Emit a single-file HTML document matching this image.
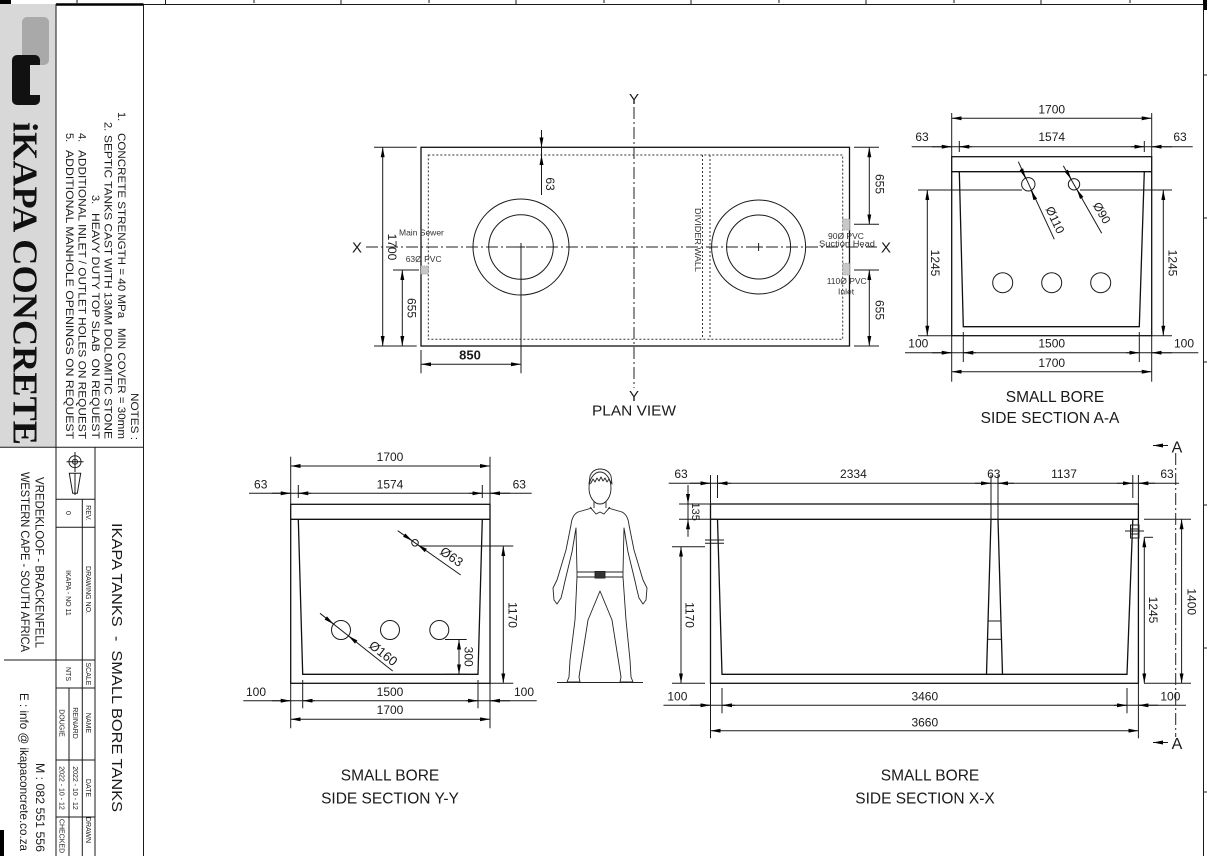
<!DOCTYPE html>
<html><head><meta charset="utf-8"><style>
html,body{margin:0;padding:0;background:#fff;}
svg{display:block;}
text{font-family:"Liberation Sans",Arial,sans-serif;fill:#1a1a1a;}
.l{stroke:#1a1a1a;stroke-width:1;fill:none;}
.t{stroke:#111;stroke-width:1.3;fill:none;}
.dd{stroke:#1a1a1a;stroke-width:1;fill:none;marker-start:url(#ar);marker-end:url(#ar);}
.de{stroke:#1a1a1a;stroke-width:1;fill:none;marker-end:url(#ar);}
.dot{stroke:#333;stroke-width:1;fill:none;stroke-dasharray:2,2;}
.ax{stroke:#222;stroke-width:1;fill:none;stroke-dasharray:12,3,2,3;}
.n{font-size:12px;}
.s{font-size:8.5px;fill:#333;}
.tt{font-size:15.5px;}
.tb{font-size:7px;}
</style></head><body>
<svg width="1207" height="856" viewBox="0 0 1207 856" xmlns="http://www.w3.org/2000/svg">
<defs>
<marker id="ar" viewBox="0 0 10 4" refX="10" refY="2" markerWidth="10" markerHeight="4" markerUnits="userSpaceOnUse" orient="auto-start-reverse"><path d="M0,0L10,2L0,4z" fill="#000"/></marker>
</defs>

<!-- page frame -->
<rect x="0" y="0" width="11" height="4" fill="#000"/>
<rect x="0" y="830" width="4" height="26" fill="#000"/>
<rect x="1203" y="0" width="4" height="10" fill="#000"/>
<line class="l" x1="56" y1="4.5" x2="1203" y2="4.5"/>
<line x1="56" y1="4.5" x2="143.5" y2="4.5" stroke="#000" stroke-width="2.5"/>
<line class="l" x1="1203.5" y1="4" x2="1203.5" y2="856"/>
<g class="l">
<line x1="165.5" y1="0" x2="165.5" y2="5"/><line x1="341" y1="0" x2="341" y2="5"/><line x1="516" y1="0" x2="516" y2="5"/><line x1="691" y1="0" x2="691" y2="5"/><line x1="866" y1="0" x2="866" y2="5"/><line x1="1041" y1="0" x2="1041" y2="5"/>
<line x1="77" y1="0" x2="77" y2="3"/><line x1="254" y1="0" x2="254" y2="3"/><line x1="429" y1="0" x2="429" y2="3"/><line x1="604" y1="0" x2="604" y2="3"/><line x1="779" y1="0" x2="779" y2="3"/><line x1="954" y1="0" x2="954" y2="3"/><line x1="1130" y1="0" x2="1130" y2="3"/>
<line x1="1203" y1="75" x2="1207" y2="75"/><line x1="1203" y1="218" x2="1207" y2="218"/><line x1="1203" y1="362" x2="1207" y2="362"/><line x1="1203" y1="505" x2="1207" y2="505"/><line x1="1203" y1="648" x2="1207" y2="648"/><line x1="1203" y1="792" x2="1207" y2="792"/>
</g>

<!-- title block -->
<rect x="0" y="4" width="56" height="443" fill="#d8d8d8"/>
<rect x="22" y="17" width="27" height="48" rx="5" fill="#a9a9a9"/>
<rect x="12" y="55" width="28" height="50" rx="5" fill="#111"/>
<rect x="30" y="65" width="10" height="30" fill="#d8d8d8"/>
<text transform="translate(13.5,122) rotate(90)" font-family="Liberation Serif,serif" font-weight="bold" font-size="35" textLength="323" lengthAdjust="spacingAndGlyphs" style="font-family:'Liberation Serif',serif;fill:#111">iKAPA CONCRETE</text>

<g class="l">
<line x1="56" y1="4" x2="56" y2="856"/>
<line x1="143.5" y1="4" x2="143.5" y2="856"/>
<line x1="0" y1="447.3" x2="143.5" y2="447.3"/>
<line x1="95" y1="447.3" x2="95" y2="856"/>
<line x1="82.3" y1="499.3" x2="82.3" y2="856"/>
<line x1="69" y1="688" x2="69" y2="856"/>
<line x1="56" y1="499.3" x2="95" y2="499.3"/>
<line x1="56" y1="527.3" x2="95" y2="527.3"/>
<line x1="4" y1="660" x2="95" y2="660"/>
<line x1="56" y1="688" x2="95" y2="688"/>
<line x1="56" y1="760" x2="95" y2="760"/>
<line x1="56" y1="817" x2="95" y2="817"/>
<circle cx="75" cy="461.7" r="6"/><circle cx="75" cy="461.7" r="2.5"/>
<line x1="66.5" y1="461.7" x2="83.5" y2="461.7"/><line x1="75" y1="452" x2="75" y2="472"/>
<path d="M69.3,473.3 L80.7,473.3 L77.3,493.3 L72.7,493.3 Z"/>
<line x1="75" y1="473.3" x2="75" y2="495"/>
</g>

<!-- notes -->
<text transform="translate(131,393) rotate(90)" style="font-size:11px" textLength="47" lengthAdjust="spacingAndGlyphs">NOTES :</text>
<text transform="translate(118,112) rotate(90)" style="font-size:11px">1.</text>
<text transform="translate(118,133) rotate(90)" style="font-size:11px" textLength="306" lengthAdjust="spacingAndGlyphs">CONCRETE STRENGTH = 40 MPa&#160;&#160; MIN COVER = 30mm</text>
<text transform="translate(104.5,122) rotate(90)" style="font-size:11px">2.</text>
<text transform="translate(104.5,135) rotate(90)" style="font-size:11px" textLength="304" lengthAdjust="spacingAndGlyphs">SEPTIC TANKS CAST WITH 13MM DOLOMITIC STONE</text>
<text transform="translate(92,195) rotate(90)" style="font-size:11px">3.</text>
<text transform="translate(92,213) rotate(90)" style="font-size:11px" textLength="226" lengthAdjust="spacingAndGlyphs">HEAVY DUTY TOP SLAB&#160; ON REQUEST</text>
<text transform="translate(78.5,133) rotate(90)" style="font-size:11px">4.</text>
<text transform="translate(78.5,150) rotate(90)" style="font-size:11px" textLength="289" lengthAdjust="spacingAndGlyphs">ADDITIONAL INLET / OUTLET HOLES ON REQUEST</text>
<text transform="translate(66,133) rotate(90)" style="font-size:11px">5.</text>
<text transform="translate(66,150) rotate(90)" style="font-size:11px" textLength="289" lengthAdjust="spacingAndGlyphs">ADDITIONAL MANHOLE OPENINGS ON REQUEST</text>

<!-- title block text -->
<text transform="translate(112,523) rotate(90)" style="font-size:15px" textLength="289" lengthAdjust="spacingAndGlyphs">IKAPA TANKS&#160; -&#160; SMALL BORE TANKS</text>
<text transform="translate(35.5,477) rotate(90)" style="font-size:12px" textLength="171" lengthAdjust="spacingAndGlyphs">VREDEKLOOF - BRACKENFELL</text>
<text transform="translate(21,472) rotate(90)" style="font-size:12px" textLength="180" lengthAdjust="spacingAndGlyphs">WESTERN CAPE - SOUTH AFRICA</text>
<text transform="translate(36,763) rotate(90)" style="font-size:12px" textLength="89" lengthAdjust="spacingAndGlyphs">M : 082 551 556</text>
<text transform="translate(20,693) rotate(90)" style="font-size:12px" textLength="158" lengthAdjust="spacingAndGlyphs">E : info @ ikapaconcrete.co.za</text>
<g class="tb">
<text transform="translate(86,513) rotate(90)" text-anchor="middle">REV.</text>
<text transform="translate(66,513) rotate(90)" text-anchor="middle">0</text>
<text transform="translate(86,590) rotate(90)" text-anchor="middle">DRAWING NO.</text>
<text transform="translate(66,593) rotate(90)" text-anchor="middle">IKAPA - NO 11</text>
<text transform="translate(86,674) rotate(90)" text-anchor="middle">SCALE</text>
<text transform="translate(66,674) rotate(90)" text-anchor="middle">NTS</text>
<text transform="translate(86,723) rotate(90)" text-anchor="middle">NAME</text>
<text transform="translate(73,723) rotate(90)" text-anchor="middle">REINARD</text>
<text transform="translate(59.5,723) rotate(90)" text-anchor="middle">DOUGIE</text>
<text transform="translate(86,788) rotate(90)" text-anchor="middle">DATE</text>
<text transform="translate(73,788) rotate(90)" text-anchor="middle">2022 - 10 - 12</text>
<text transform="translate(59.5,788) rotate(90)" text-anchor="middle">2022 - 10 - 12</text>
<text transform="translate(86,830) rotate(90)" text-anchor="middle">DRAWN</text>
<text transform="translate(59.5,836) rotate(90)" text-anchor="middle">CHECKED</text>
</g>

<!-- ================= PLAN VIEW ================= -->
<rect class="t" x="421" y="147.3" width="428.5" height="198.7"/>
<rect class="dot" x="428.3" y="155" width="414.4" height="184.3"/>
<line class="dot" x1="702.5" y1="155" x2="702.5" y2="339.3"/>
<line class="dot" x1="710" y1="155" x2="710" y2="339.3"/>
<line class="ax" x1="634" y1="107" x2="634" y2="388"/>
<line class="ax" x1="366" y1="247" x2="877" y2="247"/>
<text x="634" y="104" text-anchor="middle" style="font-size:15px">Y</text>
<text x="634" y="401" text-anchor="middle" style="font-size:15px">Y</text>
<text x="357" y="252.5" text-anchor="middle" style="font-size:15px">X</text>
<text x="886" y="252.5" text-anchor="middle" style="font-size:15px">X</text>
<text x="634" y="415.5" text-anchor="middle" style="font-size:15px" textLength="84" lengthAdjust="spacingAndGlyphs">PLAN VIEW</text>
<g class="l">
<circle cx="521" cy="247" r="48"/><circle cx="521" cy="247" r="32.3"/>
<circle cx="758.6" cy="247" r="47"/><circle cx="758.6" cy="247" r="32"/>
<line x1="517" y1="247" x2="525" y2="247"/>
<line x1="754.6" y1="247" x2="762.6" y2="247"/><line x1="758.6" y1="243" x2="758.6" y2="251"/>
<line x1="521" y1="243" x2="521" y2="373.3"/>
<line x1="421" y1="350" x2="421" y2="373.3"/>
<line x1="374" y1="147.3" x2="416.7" y2="147.3"/>
<line x1="374" y1="346" x2="416.7" y2="346"/>
<line x1="393" y1="270" x2="419" y2="270"/>
<line x1="541.5" y1="130" x2="541.5" y2="195"/>
<line x1="854" y1="147.3" x2="879" y2="147.3"/>
<line x1="854" y1="224.3" x2="879" y2="224.3"/>
<line x1="854" y1="270" x2="879" y2="270"/>
<line x1="854" y1="346" x2="879" y2="346"/>
</g>
<line class="dd" x1="382.7" y1="147.3" x2="382.7" y2="346"/>
<line class="dd" x1="402.3" y1="270" x2="402.3" y2="346"/>
<line class="dd" x1="421" y1="364.3" x2="521" y2="364.3"/>
<line class="de" x1="541.5" y1="132" x2="541.5" y2="147.3"/>
<line class="de" x1="541.5" y1="170" x2="541.5" y2="155"/>
<line class="dd" x1="869.3" y1="147.3" x2="869.3" y2="224.3"/>
<line class="dd" x1="869.3" y1="270" x2="869.3" y2="346"/>
<g class="n">
<text transform="translate(392,247) rotate(90)" text-anchor="middle" dominant-baseline="central">1700</text>
<text transform="translate(411.7,308) rotate(90)" text-anchor="middle" dominant-baseline="central">655</text>
<text transform="translate(550,184) rotate(90)" text-anchor="middle" dominant-baseline="central">63</text>
<text transform="translate(879.3,184) rotate(90)" text-anchor="middle" dominant-baseline="central">655</text>
<text transform="translate(879.3,310) rotate(90)" text-anchor="middle" dominant-baseline="central">655</text>
<text x="470" y="359.5" text-anchor="middle" font-weight="bold" style="font-size:13px">850</text>
</g>
<g fill="#c8c8c8" stroke="#999" stroke-width="0.8" stroke-dasharray="1.5,1">
<rect x="421" y="266" width="7.3" height="8"/>
<rect x="842.7" y="219" width="7" height="11"/>
<rect x="842.7" y="263.3" width="7" height="11.7"/>
</g>
<text transform="translate(695,208) rotate(90)" style="font-size:8.5px;fill:#333" textLength="64" lengthAdjust="spacingAndGlyphs">DIVIDER WALL</text>
<text class="s" x="399" y="235.5">Main Sewer</text>
<text class="s" x="405.7" y="262">63Ø PVC</text>
<text class="s" x="828" y="239">90Ø PVC</text>
<text class="s" x="819" y="246.5" textLength="56" lengthAdjust="spacingAndGlyphs">Suction Head</text>
<text class="s" x="826.7" y="284">110Ø PVC</text>
<text class="s" x="838" y="294.5">Inlet</text>

<!-- ================= SECTION A-A ================= -->
<g class="t">
<rect x="951.7" y="156.7" width="200" height="179"/>
<line x1="951.7" y1="171.7" x2="1151.7" y2="171.7"/>
<polyline points="959.3,171.7 963.3,326.7 1139.3,326.7 1144.3,171.7"/>
</g>
<g class="l">
<circle cx="1028.3" cy="184.3" r="6.7"/><circle cx="1074" cy="184.3" r="5.7"/>
<circle cx="1002.7" cy="282.7" r="10"/><circle cx="1051.7" cy="282.7" r="10"/><circle cx="1100.7" cy="282.7" r="10"/>
<line x1="1018.3" y1="161.7" x2="1054.3" y2="239.3"/>
<line x1="1063.3" y1="165.7" x2="1101.7" y2="233.3"/>
<line x1="951.7" y1="113" x2="951.7" y2="156.7"/><line x1="1151.7" y1="113" x2="1151.7" y2="156.7"/>
<line x1="911.7" y1="146.7" x2="1192.7" y2="146.7"/>
<line x1="959.3" y1="141" x2="959.3" y2="152"/><line x1="1144.3" y1="141" x2="1144.3" y2="152"/>
<line x1="918" y1="190" x2="1022" y2="190"/><line x1="1080" y1="190" x2="1172" y2="190"/>
<line x1="918" y1="335.7" x2="951.7" y2="335.7"/><line x1="1151.7" y1="335.7" x2="1172" y2="335.7"/>
<line x1="905" y1="352.7" x2="1198.3" y2="352.7"/>
<line x1="963.3" y1="332" x2="963.3" y2="362"/><line x1="1139.3" y1="332" x2="1139.3" y2="362"/>
<line x1="951.7" y1="335.7" x2="951.7" y2="381.7"/><line x1="1151.7" y1="335.7" x2="1151.7" y2="381.7"/>
</g>
<line class="dd" x1="951.7" y1="118.3" x2="1151.7" y2="118.3"/>
<line class="de" x1="932" y1="146.7" x2="951.7" y2="146.7"/>
<line class="de" x1="972" y1="146.7" x2="959.3" y2="146.7"/>
<line class="de" x1="1131" y1="146.7" x2="1144.3" y2="146.7"/>
<line class="de" x1="1172" y1="146.7" x2="1151.7" y2="146.7"/>
<line class="dd" x1="927.3" y1="190" x2="927.3" y2="335.7"/>
<line class="dd" x1="1163.3" y1="190" x2="1163.3" y2="335.7"/>
<line class="de" x1="932" y1="352.7" x2="951.7" y2="352.7"/>
<line class="de" x1="976" y1="352.7" x2="963.3" y2="352.7"/>
<line class="de" x1="1126" y1="352.7" x2="1139.3" y2="352.7"/>
<line class="de" x1="1172" y1="352.7" x2="1151.7" y2="352.7"/>
<line class="dd" x1="951.7" y1="371.7" x2="1151.7" y2="371.7"/>
<line class="de" x1="1021.3" y1="169.1" x2="1025.5" y2="178.2"/>
<line class="de" x1="1035.3" y1="199.5" x2="1031.1" y2="190.4"/>
<line class="de" x1="1066.2" y1="170.6" x2="1071.2" y2="179.3"/>
<line class="de" x1="1081.8" y1="198" x2="1076.8" y2="189.3"/>
<g class="n">
<text x="1051.7" y="113.5" text-anchor="middle">1700</text>
<text x="922" y="141" text-anchor="middle">63</text>
<text x="1051.7" y="141" text-anchor="middle">1574</text>
<text x="1180" y="141" text-anchor="middle">63</text>
<text transform="translate(935,263) rotate(90)" text-anchor="middle" dominant-baseline="central">1245</text>
<text transform="translate(1172.7,263) rotate(90)" text-anchor="middle" dominant-baseline="central">1245</text>
<text transform="translate(1055,220) rotate(65)" text-anchor="middle" dominant-baseline="central">Ø110</text>
<text transform="translate(1101.7,213) rotate(60)" text-anchor="middle" dominant-baseline="central">Ø90</text>
<text x="918.3" y="347.6" text-anchor="middle">100</text>
<text x="1051.7" y="347.6" text-anchor="middle">1500</text>
<text x="1184" y="347.6" text-anchor="middle">100</text>
<text x="1051.7" y="367" text-anchor="middle">1700</text>
</g>
<text class="tt" x="1055" y="402" text-anchor="middle">SMALL BORE</text>
<text class="tt" x="1050" y="423" text-anchor="middle">SIDE SECTION A-A</text>

<!-- ================= SECTION Y-Y ================= -->
<g class="t">
<rect x="290.7" y="504.3" width="199.3" height="179"/>
<line x1="290.7" y1="519.3" x2="490" y2="519.3"/>
<polyline points="298.3,519.3 302.7,674.3 478,674.3 482.3,519.3"/>
</g>
<g class="l">
<circle cx="415" cy="542.8" r="3.3"/>
<circle cx="341" cy="630" r="9.5"/><circle cx="390" cy="630" r="9.5"/><circle cx="439.3" cy="630" r="9.5"/>
<line x1="397.7" y1="530.7" x2="460.7" y2="575"/>
<line x1="320" y1="613.3" x2="392.7" y2="671"/>
<line x1="290.7" y1="456.7" x2="290.7" y2="504.3"/><line x1="490" y1="456.7" x2="490" y2="504.3"/>
<line x1="249" y1="493.3" x2="531.7" y2="493.3"/>
<line x1="298.3" y1="485" x2="298.3" y2="498"/><line x1="482.3" y1="485" x2="482.3" y2="498"/>
<line x1="420" y1="546" x2="513.3" y2="546"/>
<line x1="490" y1="683.3" x2="513.3" y2="683.3"/>
<line x1="445" y1="639.5" x2="466.7" y2="639.5"/>
<line x1="445" y1="674.3" x2="466.7" y2="674.3"/>
<line x1="243.3" y1="700.7" x2="536.7" y2="700.7"/>
<line x1="302.7" y1="680" x2="302.7" y2="708.3"/><line x1="478" y1="680" x2="478" y2="708.3"/>
<line x1="290.7" y1="683.3" x2="290.7" y2="728.3"/><line x1="490" y1="683.3" x2="490" y2="728.3"/>
</g>
<line class="dd" x1="290.7" y1="466" x2="490" y2="466"/>
<line class="de" x1="272" y1="493.3" x2="290.7" y2="493.3"/>
<line class="de" x1="311" y1="493.3" x2="298.3" y2="493.3"/>
<line class="de" x1="469" y1="493.3" x2="482.3" y2="493.3"/>
<line class="de" x1="510" y1="493.3" x2="490" y2="493.3"/>
<line class="dd" x1="503.3" y1="546" x2="503.3" y2="683.3"/>
<line class="dd" x1="459" y1="639.5" x2="459" y2="674.3"/>
<line class="de" x1="272" y1="700.7" x2="290.7" y2="700.7"/>
<line class="de" x1="315" y1="700.7" x2="302.7" y2="700.7"/>
<line class="de" x1="466" y1="700.7" x2="478" y2="700.7"/>
<line class="de" x1="510" y1="700.7" x2="490" y2="700.7"/>
<line class="dd" x1="290.7" y1="719.3" x2="490" y2="719.3"/>
<line class="de" x1="404.1" y1="535.1" x2="412.3" y2="540.9"/>
<line class="de" x1="425.9" y1="550.5" x2="417.7" y2="544.7"/>
<line class="de" x1="325.7" y1="617.9" x2="333.6" y2="624.1"/>
<line class="de" x1="356.3" y1="642.1" x2="348.4" y2="635.9"/>
<g class="n">
<text x="390" y="461" text-anchor="middle">1700</text>
<text x="260.7" y="488.6" text-anchor="middle">63</text>
<text x="390" y="488.6" text-anchor="middle">1574</text>
<text x="519.3" y="488.6" text-anchor="middle">63</text>
<text transform="translate(512.7,615) rotate(90)" text-anchor="middle" dominant-baseline="central">1170</text>
<text transform="translate(468.3,656.7) rotate(90)" text-anchor="middle" dominant-baseline="central">300</text>
<text transform="translate(451.7,556.7) rotate(35)" text-anchor="middle" dominant-baseline="central" style="font-size:13px">Ø63</text>
<text transform="translate(383.3,653.3) rotate(38)" text-anchor="middle" dominant-baseline="central" style="font-size:13px">Ø160</text>
<text x="256" y="696" text-anchor="middle">100</text>
<text x="390" y="696" text-anchor="middle">1500</text>
<text x="524" y="696" text-anchor="middle">100</text>
<text x="390" y="714" text-anchor="middle">1700</text>
</g>
<text class="tt" x="390" y="780.5" text-anchor="middle">SMALL BORE</text>
<text class="tt" x="390" y="803.5" text-anchor="middle">SIDE SECTION Y-Y</text>

<!-- ================= HUMAN ================= -->
<g stroke="#222" stroke-width="0.9" fill="none" stroke-linejoin="round">
<ellipse cx="600" cy="488" rx="11" ry="16" fill="#fff"/>
<path d="M589,484 L590,476 Q593,469 600,469 Q608,469 611,476 L612,484 L609,479 L607,482 L605,478 L603,481 L601,477 L599,481 L597,478 L595,482 L593,479 L591,483 Z"/>
<path d="M594,502 L594,508 M606,502 L606,508"/>
<path d="M590,507 L596,514 L600,512 L604,514 L610,507"/>
<path d="M592,508 L578,512 Q572,515 571,525 L566,550 L557,580 L553,588 L554,600 L557,604 L561,598 L563,590 L565,581 L572,552 L576,528 L577,572"/>
<path d="M608,508 L622,512 Q628,515 629,525 L634,550 L643,580 L647,588 L646,600 L643,604 L639,598 L637,590 L635,581 L628,552 L624,528 L623,572"/>
<rect x="577" y="572" width="46" height="5"/>
<rect x="595" y="571.5" width="10" height="6.5" fill="#333"/>
<path d="M577,577 L575,620 L570,660 L569,677 L567,682 L580,682 L579,677 L588,620 L600,591 L612,620 L621,677 L620,682 L633,682 L631,677 L630,660 L626,620 L623,577"/>
<line x1="557" y1="682.5" x2="643" y2="682.5"/>
</g>

<!-- ================= SECTION X-X ================= -->
<g class="t">
<rect x="710.5" y="504" width="427.9" height="179.3"/>
<line x1="710.5" y1="519.3" x2="1138.4" y2="519.3"/>
<polyline points="717.5,519.3 722,674.3 1127,674.3 1132.8,519.3"/>
<line x1="991" y1="519.3" x2="986.5" y2="674.3"/>
<line x1="998" y1="519.3" x2="1002.5" y2="674.3"/>
</g>
<g class="l">
<line x1="988" y1="621" x2="1001" y2="621"/><line x1="987.5" y1="639.3" x2="1001.5" y2="639.3"/>
<line x1="705" y1="540" x2="724" y2="540"/><line x1="705" y1="543.3" x2="724" y2="543.3"/>
<rect x="1130.5" y="525" width="8.5" height="13"/>
<line x1="1130.5" y1="529" x2="1139" y2="529"/><line x1="1125" y1="531" x2="1144" y2="531"/><line x1="1130.5" y1="534" x2="1139" y2="534"/>
<line x1="668.7" y1="483.3" x2="1179" y2="483.3"/>
<line x1="710.5" y1="475" x2="710.5" y2="504"/><line x1="717.5" y1="475" x2="717.5" y2="498"/>
<line x1="991" y1="475" x2="991" y2="519.3"/><line x1="998" y1="475" x2="998" y2="519.3"/>
<line x1="1132.8" y1="475" x2="1132.8" y2="498"/><line x1="1138.4" y1="475" x2="1138.4" y2="504"/>
<line x1="688" y1="485" x2="688" y2="536.7"/>
<line x1="679" y1="504" x2="710.5" y2="504"/><line x1="679" y1="519.3" x2="717.5" y2="519.3"/>
<line x1="672" y1="546.7" x2="705" y2="546.7"/><line x1="672" y1="683.3" x2="705" y2="683.3"/>
<line x1="1144.3" y1="537.3" x2="1153" y2="537.3"/>
<line x1="1144" y1="519.3" x2="1191" y2="519.3"/><line x1="1144" y1="683.3" x2="1191" y2="683.3"/>
<line x1="663.5" y1="705.3" x2="1186" y2="705.3"/>
<line x1="722" y1="688" x2="722" y2="713.3"/><line x1="1127" y1="688" x2="1127" y2="713.3"/>
<line x1="710.5" y1="683.3" x2="710.5" y2="738.3"/><line x1="1138.4" y1="683.3" x2="1138.4" y2="738.3"/>
</g>
<line class="ax" x1="1175.7" y1="453" x2="1175.7" y2="737"/>
<line class="de" x1="690" y1="483.3" x2="710.5" y2="483.3"/>
<line class="de" x1="731" y1="483.3" x2="717.5" y2="483.3"/>
<line class="de" x1="975" y1="483.3" x2="991" y2="483.3"/>
<line class="de" x1="1014" y1="483.3" x2="998" y2="483.3"/>
<line class="de" x1="1117" y1="483.3" x2="1132.8" y2="483.3"/>
<line class="de" x1="1155" y1="483.3" x2="1138.4" y2="483.3"/>
<line class="de" x1="688" y1="490" x2="688" y2="504"/>
<line class="de" x1="688" y1="533" x2="688" y2="519.3"/>
<line class="dd" x1="681" y1="546.7" x2="681" y2="683.3"/>
<line class="dd" x1="1144.3" y1="537.3" x2="1144.3" y2="683.3"/>
<line class="dd" x1="1181.6" y1="519.3" x2="1181.6" y2="683.3"/>
<line class="de" x1="690" y1="705.3" x2="710.5" y2="705.3"/>
<line class="de" x1="735" y1="705.3" x2="722" y2="705.3"/>
<line class="de" x1="1114" y1="705.3" x2="1127" y2="705.3"/>
<line class="de" x1="1158" y1="705.3" x2="1138.4" y2="705.3"/>
<line class="dd" x1="710.5" y1="730.7" x2="1138.4" y2="730.7"/>
<line class="de" x1="1168" y1="445.5" x2="1153" y2="445.5"/>
<line class="de" x1="1168" y1="742.5" x2="1153" y2="742.5"/>
<text x="1177" y="452.5" text-anchor="middle" style="font-size:16px">A</text>
<text x="1177" y="749" text-anchor="middle" style="font-size:16px">A</text>
<g class="n">
<text x="681" y="478" text-anchor="middle">63</text>
<text x="853.4" y="478" text-anchor="middle">2334</text>
<text x="993.8" y="478" text-anchor="middle">63</text>
<text x="1064" y="478" text-anchor="middle">1137</text>
<text x="1167" y="478" text-anchor="middle">63</text>
<text transform="translate(695,511.7) rotate(90)" text-anchor="middle" dominant-baseline="central" style="font-size:11px">135</text>
<text transform="translate(689.6,615) rotate(90)" text-anchor="middle" dominant-baseline="central">1170</text>
<text transform="translate(1153,610) rotate(90)" text-anchor="middle" dominant-baseline="central">1245</text>
<text transform="translate(1191.4,601.7) rotate(90)" text-anchor="middle" dominant-baseline="central">1400</text>
<text x="677.4" y="700.3" text-anchor="middle">100</text>
<text x="924.8" y="700.3" text-anchor="middle">3460</text>
<text x="1170.4" y="700.3" text-anchor="middle">100</text>
<text x="924.8" y="726.3" text-anchor="middle">3660</text>
</g>
<text class="tt" x="930" y="780.5" text-anchor="middle">SMALL BORE</text>
<text class="tt" x="925" y="803.5" text-anchor="middle">SIDE SECTION X-X</text>
</svg>
</body></html>
